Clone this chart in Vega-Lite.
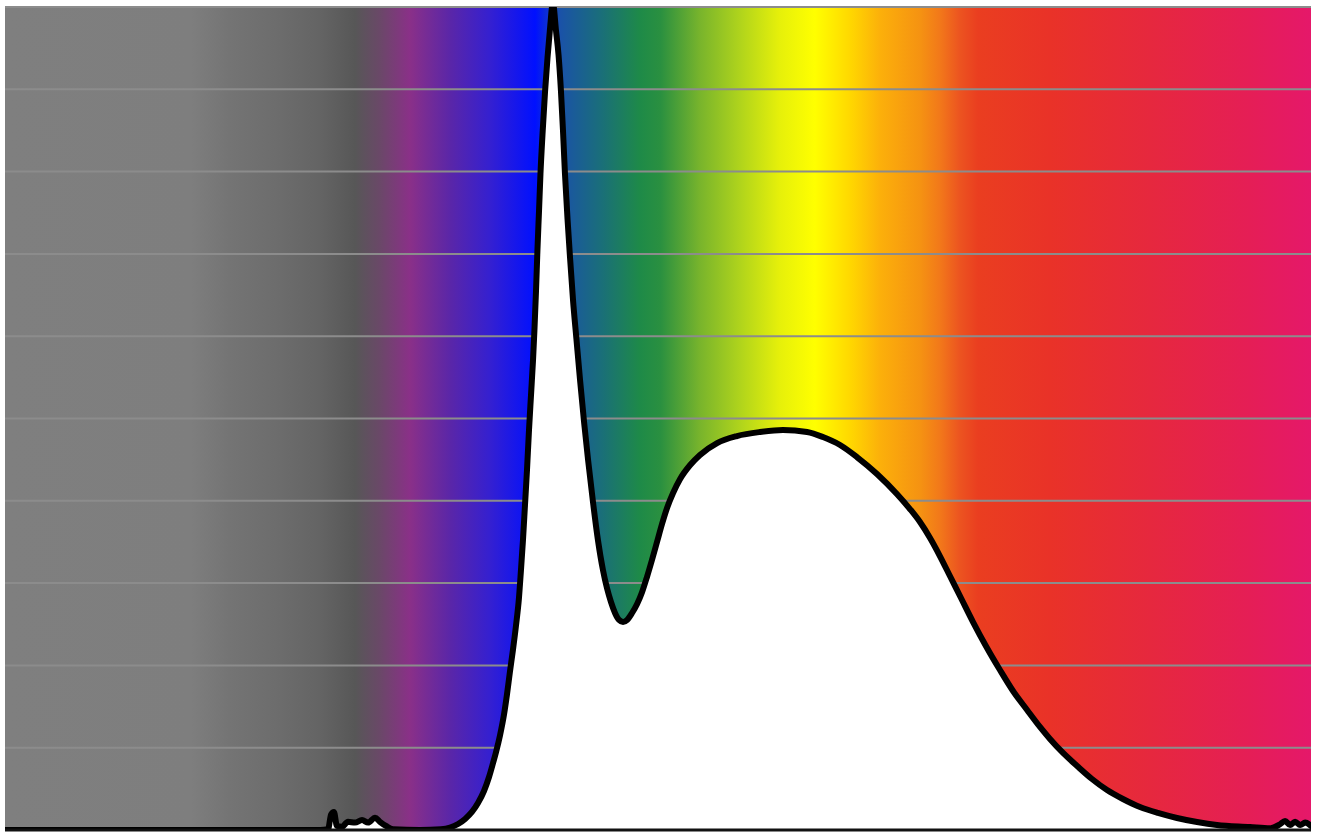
{
  "$schema": "https://vega.github.io/schema/vega-lite/v6.json",
  "width": 1306,
  "height": 823,
  "autosize": {"type": "none"},
  "padding": {"left": 5, "top": 7, "right": 7, "bottom": 4},
  "background": "white",
  "config": {"view": {"stroke": null}},
  "datasets": {
    "grid": [
      {"level": 0.1}, {"level": 0.2}, {"level": 0.3}, {"level": 0.4}, {"level": 0.5},
      {"level": 0.6}, {"level": 0.7}, {"level": 0.8}, {"level": 0.9}, {"level": 1.0}
    ],
    "spectrum": [
      {"wavelength": 180.0, "intensity": 0.0},
      {"wavelength": 277.1, "intensity": 0.0},
      {"wavelength": 336.8, "intensity": 0.0},
      {"wavelength": 340.8, "intensity": 0.001},
      {"wavelength": 342.3, "intensity": 0.019},
      {"wavelength": 343.7, "intensity": 0.022},
      {"wavelength": 345.2, "intensity": 0.005},
      {"wavelength": 347.7, "intensity": 0.004},
      {"wavelength": 350.7, "intensity": 0.010},
      {"wavelength": 354.2, "intensity": 0.009},
      {"wavelength": 357.7, "intensity": 0.012},
      {"wavelength": 360.7, "intensity": 0.009},
      {"wavelength": 364.2, "intensity": 0.015},
      {"wavelength": 366.6, "intensity": 0.010},
      {"wavelength": 369.6, "intensity": 0.005},
      {"wavelength": 373.1, "intensity": 0.001},
      {"wavelength": 386.5, "intensity": 0.0},
      {"wavelength": 397.0, "intensity": 0.001},
      {"wavelength": 401.5, "intensity": 0.003},
      {"wavelength": 405.5, "intensity": 0.0073},
      {"wavelength": 409.0, "intensity": 0.0134},
      {"wavelength": 412.4, "intensity": 0.0219},
      {"wavelength": 415.4, "intensity": 0.0328},
      {"wavelength": 418.4, "intensity": 0.0474},
      {"wavelength": 420.9, "intensity": 0.0644},
      {"wavelength": 422.9, "intensity": 0.0814},
      {"wavelength": 424.4, "intensity": 0.0948},
      {"wavelength": 426.4, "intensity": 0.1154},
      {"wavelength": 428.4, "intensity": 0.1409},
      {"wavelength": 429.8, "intensity": 0.1640},
      {"wavelength": 431.3, "intensity": 0.1920},
      {"wavelength": 432.8, "intensity": 0.2187},
      {"wavelength": 434.3, "intensity": 0.2479},
      {"wavelength": 435.8, "intensity": 0.2819},
      {"wavelength": 436.8, "intensity": 0.3159},
      {"wavelength": 437.8, "intensity": 0.3524},
      {"wavelength": 438.8, "intensity": 0.3949},
      {"wavelength": 439.8, "intensity": 0.4374},
      {"wavelength": 440.8, "intensity": 0.4860},
      {"wavelength": 441.8, "intensity": 0.5286},
      {"wavelength": 442.8, "intensity": 0.5711},
      {"wavelength": 443.5, "intensity": 0.6075},
      {"wavelength": 444.3, "intensity": 0.6561},
      {"wavelength": 445.0, "intensity": 0.7047},
      {"wavelength": 445.8, "intensity": 0.7533},
      {"wavelength": 446.5, "intensity": 0.7971},
      {"wavelength": 447.5, "intensity": 0.8445},
      {"wavelength": 448.8, "intensity": 0.8979},
      {"wavelength": 450.0, "intensity": 0.9380},
      {"wavelength": 451.2, "intensity": 0.9721},
      {"wavelength": 452.7, "intensity": 1.005},
      {"wavelength": 454.2, "intensity": 0.9721},
      {"wavelength": 455.5, "intensity": 0.9417},
      {"wavelength": 456.7, "intensity": 0.8979},
      {"wavelength": 457.7, "intensity": 0.8505},
      {"wavelength": 458.7, "intensity": 0.7971},
      {"wavelength": 460.0, "intensity": 0.7412},
      {"wavelength": 461.2, "intensity": 0.6962},
      {"wavelength": 462.7, "intensity": 0.6440},
      {"wavelength": 464.4, "intensity": 0.5966},
      {"wavelength": 466.2, "intensity": 0.5468},
      {"wavelength": 468.2, "intensity": 0.4957},
      {"wavelength": 470.2, "intensity": 0.4496},
      {"wavelength": 472.7, "intensity": 0.3973},
      {"wavelength": 475.1, "intensity": 0.3524},
      {"wavelength": 477.6, "intensity": 0.3159},
      {"wavelength": 479.6, "intensity": 0.2940},
      {"wavelength": 481.6, "intensity": 0.2770},
      {"wavelength": 483.6, "intensity": 0.2637},
      {"wavelength": 485.6, "intensity": 0.2552},
      {"wavelength": 487.6, "intensity": 0.2527},
      {"wavelength": 489.6, "intensity": 0.2552},
      {"wavelength": 492.1, "intensity": 0.2637},
      {"wavelength": 494.6, "intensity": 0.2746},
      {"wavelength": 497.1, "intensity": 0.2892},
      {"wavelength": 499.5, "intensity": 0.3074},
      {"wavelength": 502.0, "intensity": 0.3281},
      {"wavelength": 504.5, "intensity": 0.3499},
      {"wavelength": 507.0, "intensity": 0.3718},
      {"wavelength": 509.5, "intensity": 0.3913},
      {"wavelength": 512.5, "intensity": 0.4095},
      {"wavelength": 516.0, "intensity": 0.4265},
      {"wavelength": 521.0, "intensity": 0.4435},
      {"wavelength": 525.9, "intensity": 0.4557},
      {"wavelength": 534.4, "intensity": 0.4702},
      {"wavelength": 544.3, "intensity": 0.4787},
      {"wavelength": 555.8, "intensity": 0.4836},
      {"wavelength": 567.2, "intensity": 0.4860},
      {"wavelength": 579.2, "intensity": 0.4836},
      {"wavelength": 587.1, "intensity": 0.4775},
      {"wavelength": 595.6, "intensity": 0.4678},
      {"wavelength": 604.0, "intensity": 0.4532},
      {"wavelength": 614.0, "intensity": 0.4326},
      {"wavelength": 623.9, "intensity": 0.4083},
      {"wavelength": 630.4, "intensity": 0.3900},
      {"wavelength": 635.4, "intensity": 0.3742},
      {"wavelength": 640.4, "intensity": 0.3548},
      {"wavelength": 645.3, "intensity": 0.3329},
      {"wavelength": 650.3, "intensity": 0.3086},
      {"wavelength": 655.8, "intensity": 0.2819},
      {"wavelength": 661.8, "intensity": 0.2527},
      {"wavelength": 668.2, "intensity": 0.2236},
      {"wavelength": 675.2, "intensity": 0.1944},
      {"wavelength": 681.7, "intensity": 0.1689},
      {"wavelength": 688.7, "intensity": 0.1458},
      {"wavelength": 695.1, "intensity": 0.1252},
      {"wavelength": 700.1, "intensity": 0.1106},
      {"wavelength": 706.6, "intensity": 0.0936},
      {"wavelength": 713.6, "intensity": 0.0778},
      {"wavelength": 721.0, "intensity": 0.0620},
      {"wavelength": 728.5, "intensity": 0.0486},
      {"wavelength": 736.4, "intensity": 0.0377},
      {"wavelength": 744.9, "intensity": 0.0279},
      {"wavelength": 753.8, "intensity": 0.0207},
      {"wavelength": 763.3, "intensity": 0.0146},
      {"wavelength": 773.3, "intensity": 0.0097},
      {"wavelength": 783.2, "intensity": 0.0061},
      {"wavelength": 799.6, "intensity": 0.0036},
      {"wavelength": 809.6, "intensity": 0.002},
      {"wavelength": 814.6, "intensity": 0.007},
      {"wavelength": 817.1, "intensity": 0.011},
      {"wavelength": 819.6, "intensity": 0.006},
      {"wavelength": 822.1, "intensity": 0.010},
      {"wavelength": 824.6, "intensity": 0.006},
      {"wavelength": 827.1, "intensity": 0.009},
      {"wavelength": 830.0, "intensity": 0.005}
    ]
  },
  "layer": [
    {
      "data": {"values": [{}]},
      "mark": {
        "type": "rect",
        "color": {
          "gradient": "linear",
          "x1": 0, "y1": 0, "x2": 1, "y2": 0,
          "stops": [
            {"offset": 0.0, "color": "#7f7f7f"},
            {"offset": 0.142, "color": "#7e7e7e"},
            {"offset": 0.172, "color": "#747474"},
            {"offset": 0.211, "color": "#6c6c6c"},
            {"offset": 0.241, "color": "#646464"},
            {"offset": 0.268, "color": "#575757"},
            {"offset": 0.287, "color": "#6a4868"},
            {"offset": 0.310, "color": "#8a3088"},
            {"offset": 0.341, "color": "#5a26a8"},
            {"offset": 0.371, "color": "#3520d0"},
            {"offset": 0.406, "color": "#0010ff"},
            {"offset": 0.425, "color": "#1a52a8"},
            {"offset": 0.456, "color": "#1a6e7a"},
            {"offset": 0.486, "color": "#1e8a48"},
            {"offset": 0.502, "color": "#2a9040"},
            {"offset": 0.532, "color": "#78b42c"},
            {"offset": 0.563, "color": "#b0d41c"},
            {"offset": 0.593, "color": "#e6f00a"},
            {"offset": 0.620, "color": "#ffff00"},
            {"offset": 0.647, "color": "#ffd800"},
            {"offset": 0.670, "color": "#fcb00a"},
            {"offset": 0.701, "color": "#f59212"},
            {"offset": 0.716, "color": "#f2781a"},
            {"offset": 0.731, "color": "#ec5420"},
            {"offset": 0.745, "color": "#ea3e20"},
            {"offset": 0.800, "color": "#e93228"},
            {"offset": 0.877, "color": "#e6283e"},
            {"offset": 0.953, "color": "#e51e56"},
            {"offset": 1.0, "color": "#e5186a"}
          ]
        }
      },
      "encoding": {
        "x": {"datum": 180, "type": "quantitative", "scale": {"domain": [180, 830], "nice": false, "zero": false}, "axis": null},
        "x2": {"datum": 830},
        "y": {"datum": 0, "type": "quantitative", "scale": {"domain": [0, 1], "nice": false}, "axis": null},
        "y2": {"datum": 1}
      }
    },
    {
      "data": {"name": "grid"},
      "mark": {"type": "rule", "color": "#8c8c8c", "strokeWidth": 2},
      "encoding": {"y": {"field": "level", "type": "quantitative"}}
    },
    {
      "data": {"name": "spectrum"},
      "mark": {"type": "area", "color": "white", "opacity": 1, "interpolate": "monotone", "clip": true},
      "encoding": {
        "x": {"field": "wavelength", "type": "quantitative"},
        "y": {"field": "intensity", "type": "quantitative"}
      }
    },
    {
      "data": {"name": "spectrum"},
      "mark": {"type": "line", "color": "black", "strokeWidth": 6, "interpolate": "monotone", "clip": true, "strokeJoin": "round", "strokeCap": "round"},
      "encoding": {
        "x": {"field": "wavelength", "type": "quantitative"},
        "y": {"field": "intensity", "type": "quantitative"}
      }
    },
    {
      "data": {"values": [{}]},
      "mark": {"type": "rule", "color": "#111111", "strokeWidth": 3},
      "encoding": {"y": {"datum": 0}}
    }
  ]
}
